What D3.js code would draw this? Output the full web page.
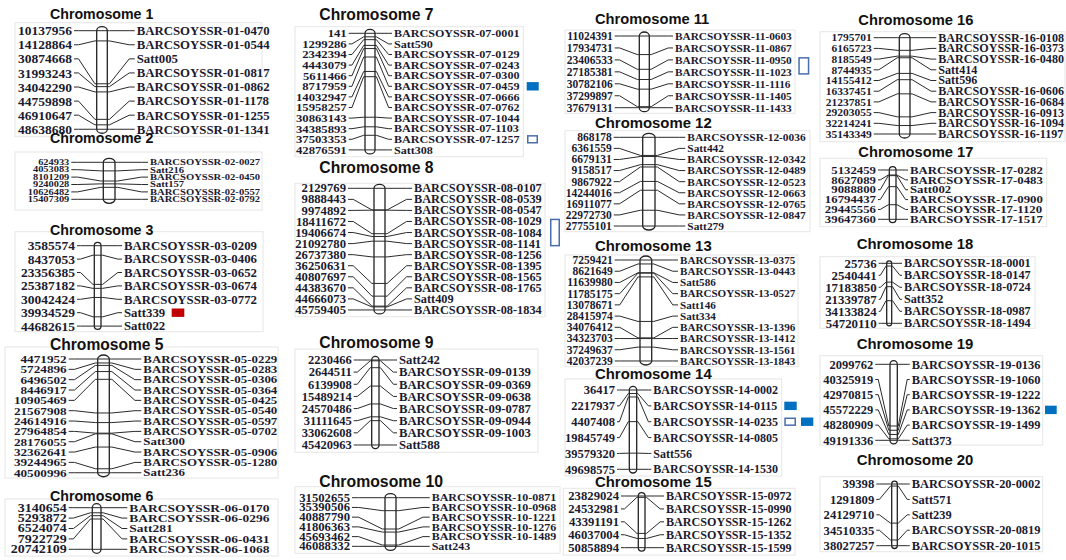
<!DOCTYPE html>
<html><head><meta charset="utf-8">
<script src="https://cdn.jsdelivr.net/npm/d3@7"></script>
<style>
html,body{margin:0;padding:0;background:#fff;}
svg{display:block;}
</style></head>
<body>
<svg id="chart" width="1066" height="560"></svg>
<script>
// ---------------- DATA ----------------
const chromosomes = [1,2,3,5,6,7,8,9,10,11,12,13,14,15,16,17,18,19,20];

const chr1Pos = [10137956,14128864,30874668,31993243,34042290,44759898,46910647,48638680];
const chr1Markers = ["BARCSOYSSR-01-0470","BARCSOYSSR-01-0544","Satt005","BARCSOYSSR-01-0817","BARCSOYSSR-01-0862","BARCSOYSSR-01-1178","BARCSOYSSR-01-1255","BARCSOYSSR-01-1341"];

const chr2Pos = [624933,4053083,8101209,9240028,10626482,15407309];
const chr2Markers = ["BARCSOYSSR-02-0027","Satt216","BARCSOYSSR-02-0450","Satt157","BARCSOYSSR-02-0557","BARCSOYSSR-02-0792"];

const chr3Pos = [3585574,8437053,23356385,25387182,30042424,39934529,44682615];
const chr3Markers = ["BARCSOYSSR-03-0209","BARCSOYSSR-03-0406","BARCSOYSSR-03-0652","BARCSOYSSR-03-0674","BARCSOYSSR-03-0772","Satt339","Satt022"];

const chr5Pos = [4471952,5724896,6496502,8446917,10905469,21567908,24614916,27964854,28176055,32362641,39244965,40500996];
const chr5Markers = ["BARCSOYSSR-05-0229","BARCSOYSSR-05-0283","BARCSOYSSR-05-0306","BARCSOYSSR-05-0364","BARCSOYSSR-05-0425","BARCSOYSSR-05-0540","BARCSOYSSR-05-0597","BARCSOYSSR-05-0702","Satt300","BARCSOYSSR-05-0906","BARCSOYSSR-05-1280","Satt236"];

const chr6Pos = [3140654,5293872,6524074,7922729,20742109];
const chr6Markers = ["BARCSOYSSR-06-0170","BARCSOYSSR-06-0296","Satt281","BARCSOYSSR-06-0431","BARCSOYSSR-06-1068"];

const chr7Pos = [141,1299286,2342394,4443079,5611466,8717959,14032947,15958257,30863143,34385893,37503353,42876591];
const chr7Markers = ["BARCSOYSSR-07-0001","Satt590","BARCSOYSSR-07-0129","BARCSOYSSR-07-0243","BARCSOYSSR-07-0300","BARCSOYSSR-07-0459","BARCSOYSSR-07-0666","BARCSOYSSR-07-0762","BARCSOYSSR-07-1044","BARCSOYSSR-07-1103","BARCSOYSSR-07-1257","Satt308"];

const chr8Pos = [2129769,9888443,9974892,18411672,19406674,21092780,26737380,36250631,40807697,44383670,44666073,45759405];
const chr8Markers = ["BARCSOYSSR-08-0107","BARCSOYSSR-08-0539","BARCSOYSSR-08-0547","BARCSOYSSR-08-1029","BARCSOYSSR-08-1084","BARCSOYSSR-08-1141","BARCSOYSSR-08-1256","BARCSOYSSR-08-1395","BARCSOYSSR-08-1565","BARCSOYSSR-08-1765","Satt409","BARCSOYSSR-08-1834"];

const chr9Pos = [2230466,2644511,6139908,15489214,24570486,31111645,33062608,45420963];
const chr9Markers = ["Satt242","BARCSOYSSR-09-0139","BARCSOYSSR-09-0369","BARCSOYSSR-09-0638","BARCSOYSSR-09-0787","BARCSOYSSR-09-0944","BARCSOYSSR-09-1003","Satt588"];

const chr10Pos = [31502655,35390506,40887790,41806363,45693462,46088332];
const chr10Markers = ["BARCSOYSSR-10-0871","BARCSOYSSR-10-0968","BARCSOYSSR-10-1221","BARCSOYSSR-10-1276","BARCSOYSSR-10-1489","Satt243"];

const chr11Pos = [11024391,17934731,23406533,27185381,30782106,37299897,37679131];
const chr11Markers = ["BARCSOYSSR-11-0603","BARCSOYSSR-11-0867","BARCSOYSSR-11-0950","BARCSOYSSR-11-1023","BARCSOYSSR-11-1116","BARCSOYSSR-11-1405","BARCSOYSSR-11-1433"];

const chr12Pos = [868178,6361559,6679131,9158517,9867922,14244016,16911077,22972730,27755101];
const chr12Markers = ["BARCSOYSSR-12-0036","Satt442","BARCSOYSSR-12-0342","BARCSOYSSR-12-0489","BARCSOYSSR-12-0523","BARCSOYSSR-12-0663","BARCSOYSSR-12-0765","BARCSOYSSR-12-0847","Satt279"];

const chr13Pos = [7259421,8621649,11639980,11785175,13078671,28415974,34076412,34323703,37249637,42037239];
const chr13Markers = ["BARCSOYSSR-13-0375","BARCSOYSSR-13-0443","Satt586","BARCSOYSSR-13-0527","Satt146","Satt334","BARCSOYSSR-13-1396","BARCSOYSSR-13-1412","BARCSOYSSR-13-1561","BARCSOYSSR-13-1843"];

const chr14Pos = [36417,2217937,4407408,19845749,39579320,49698575];
const chr14Markers = ["BARCSOYSSR-14-0002","BARCSOYSSR-14-0115","BARCSOYSSR-14-0235","BARCSOYSSR-14-0805","Satt556","BARCSOYSSR-14-1530"];

const chr15Pos = [23829024,24532981,43391191,46037004,50858894];
const chr15Markers = ["BARCSOYSSR-15-0972","BARCSOYSSR-15-0990","BARCSOYSSR-15-1262","BARCSOYSSR-15-1352","BARCSOYSSR-15-1599"];

const chr16Pos = [1795701,6165723,8185549,8744935,14155412,16337451,21237851,29203055,32214241,35143349];
const chr16Markers = ["BARCSOYSSR-16-0108","BARCSOYSSR-16-0373","BARCSOYSSR-16-0480","Satt414","Satt596","BARCSOYSSR-16-0606","BARCSOYSSR-16-0684","BARCSOYSSR-16-0913","BARCSOYSSR-16-1094","BARCSOYSSR-16-1197"];

const chr17Pos = [5132459,8627089,9088800,16794437,29445556,39647360];
const chr17Markers = ["BARCSOYSSR-17-0282","BARCSOYSSR-17-0483","Satt002","BARCSOYSSR-17-0900","BARCSOYSSR-17-1120","BARCSOYSSR-17-1517"];

const chr18Pos = [25736,2540441,17183850,21339787,34133824,54720110];
const chr18Markers = ["BARCSOYSSR-18-0001","BARCSOYSSR-18-0147","BARCSOYSSR-18-0724","Satt352","BARCSOYSSR-18-0987","BARCSOYSSR-18-1494"];

const chr19Pos = [2099762,40325919,42970815,45572229,48280909,49191336];
const chr19Markers = ["BARCSOYSSR-19-0136","BARCSOYSSR-19-1060","BARCSOYSSR-19-1222","BARCSOYSSR-19-1362","BARCSOYSSR-19-1499","Satt373"];

const chr20Pos = [39398,1291809,24129710,34510335,38027257];
const chr20Markers = ["BARCSOYSSR-20-0002","Satt571","Satt239","BARCSOYSSR-20-0819","BARCSOYSSR-20-1015"];

// highlighted markers (kind: filled / open; span = from marker .. to marker)
const highlights = [
  {chr:3,  from:"Satt339",            to:"Satt339",            kind:"filled", color:"#c00000"},
  {chr:7,  from:"BARCSOYSSR-07-0459", to:"BARCSOYSSR-07-0459", kind:"filled", color:"#0070c0"},
  {chr:7,  from:"BARCSOYSSR-07-1257", to:"BARCSOYSSR-07-1257", kind:"open",   color:"#4a6ea9"},
  {chr:8,  from:"BARCSOYSSR-08-1029", to:"BARCSOYSSR-08-1141", kind:"open",   color:"#4a6ea9"},
  {chr:11, from:"BARCSOYSSR-11-0950", to:"BARCSOYSSR-11-1023", kind:"open",   color:"#4a6ea9"},
  {chr:14, from:"BARCSOYSSR-14-0115", to:"BARCSOYSSR-14-0115", kind:"filled", color:"#0070c0"},
  {chr:14, from:"BARCSOYSSR-14-0235", to:"BARCSOYSSR-14-0235", kind:"open",   color:"#4a6ea9"},
  {chr:14, from:"BARCSOYSSR-14-0235", to:"BARCSOYSSR-14-0235", kind:"filled", color:"#0070c0"},
  {chr:19, from:"BARCSOYSSR-19-1362", to:"BARCSOYSSR-19-1362", kind:"filled", color:"#0070c0"}
];

const dataByChr = {
  1:[chr1Pos,chr1Markers],2:[chr2Pos,chr2Markers],3:[chr3Pos,chr3Markers],5:[chr5Pos,chr5Markers],
  6:[chr6Pos,chr6Markers],7:[chr7Pos,chr7Markers],8:[chr8Pos,chr8Markers],9:[chr9Pos,chr9Markers],
  10:[chr10Pos,chr10Markers],11:[chr11Pos,chr11Markers],12:[chr12Pos,chr12Markers],13:[chr13Pos,chr13Markers],
  14:[chr14Pos,chr14Markers],15:[chr15Pos,chr15Markers],16:[chr16Pos,chr16Markers],17:[chr17Pos,chr17Markers],
  18:[chr18Pos,chr18Markers],19:[chr19Pos,chr19Markers],20:[chr20Pos,chr20Markers]
};

// ---------------- LAYOUT ----------------
// t:[x, baseline, fontsize], box:[x,y,w,h], y0/step rows, lx: left label right edge,
// cx/cw chromosome, rx: right label start, lfs/rfs font sizes, sy: vertical text squeeze
const layout = {
  1: {t:[50,19,14.2],  box:[15,22.7,247,114],   y0:30.7, step:14.08, lx:72,    cx:96.7,  cw:10.6, rx:136.7, lfs:13.5, rfs:12.8, sy:1},
  2: {t:[50,143,14.2], box:[15,152,247,58],     y0:162.3,step:7.4,   lx:69.3,  cx:103.3, cw:11.7, rx:150,   lfs:10.4, rfs:10.6, sy:0.78},
  3: {t:[50,235,14.2], box:[15,231.7,248,100],  y0:245.7,step:13.4,  lx:75,    cx:94.3,  cw:6.7,  rx:124,   lfs:13.5, rfs:12.8, sy:1},
  5: {t:[50,349.5,15.6],box:[5,347,273,131],    y0:359,  step:10.34, lx:66.7,  cx:97.7,  cw:11.6, rx:143.3, lfs:13.2, rfs:12.9, sy:0.85},
  6: {t:[50,500.5,14.2],box:[5,499,273,57],     y0:507.7,step:10.4,  lx:66.7,  cx:92.3,  cw:8.7,  rx:129.3, lfs:14,   rfs:13.5, sy:0.83},
  7: {t:[319.3,20,15.7],box:[295,26.7,228.3,130],y0:33.3,step:10.6,  lx:346.7, cx:365,   cw:10,   rx:394,   lfs:12.7, rfs:12.1, sy:0.88},
  8: {t:[319.3,172.5,15.7],box:[295,183.3,250,133.4],y0:188.3,step:11.06,lx:346,cx:374,  cw:11,   rx:414,   lfs:12.7, rfs:12.3, sy:0.95},
  9: {t:[319.3,348,15.7],box:[295,349,243,103.3],y0:360,  step:12.14, lx:351.7, cx:371.7, cw:7.3,  rx:399,   lfs:12.5, rfs:12.7, sy:1},
  10:{t:[319.3,486.5,15.8],box:[295,486.7,265,66.6],y0:497.7,step:9.73,lx:350,  cx:385,   cw:11,   rx:431.7, lfs:12.7, rfs:12,   sy:0.9},
  11:{t:[595,24,14.7], box:[565,30,230,83.3],   y0:36,   step:11.95, lx:612.7, cx:639.3, cw:10,   rx:675,   lfs:11.5, rfs:11.3, sy:1},
  12:{t:[595,128,14.9],box:[565,130.7,245,101], y0:137.3,step:11.09, lx:611.7, cx:642.7, cw:12.3, rx:687.3, lfs:11.5, rfs:11.4, sy:1},
  13:{t:[595,250.5,14.9],box:[565,255,233,111.7],y0:260, step:11.22, lx:612.7, cx:640,   cw:11.7, rx:680,   lfs:11.5, rfs:11.1, sy:1},
  14:{t:[595,379,14.9],box:[565,379,216.7,97],  y0:390,  step:15.86, lx:615,   cx:629.3, cw:7.4,  rx:653.3, lfs:12.5, rfs:12,   sy:1},
  15:{t:[595,487,14.9],box:[563.3,488.3,231.7,66.7],y0:496,step:12.92,lx:619,  cx:638.3, cw:6.7,  rx:666,   lfs:12.7, rfs:12.1, sy:1},
  16:{t:[858.3,25,14.7],box:[820,31.7,245,110], y0:37.7, step:10.7,  lx:871.7, cx:899.3, cw:10.7, rx:938.3, lfs:11.5, rfs:12.1, sy:0.95},
  17:{t:[858.3,156.5,14.7],box:[820,158.3,226.7,68.4],y0:170,step:9.86,lx:876, cx:889.3, cw:6.7,  rx:910,   lfs:12.8, rfs:12.8, sy:0.86},
  18:{t:[856.7,249,14.9],box:[820,256.7,215,71.6],y0:263.3,step:12,   lx:876.7, cx:886.7, cw:5,    rx:904,   lfs:12.9, rfs:12.2, sy:1},
  19:{t:[856.7,349,14.9],box:[820,355.7,222.7,89.3],y0:364.3,step:15.2,lx:873.3,cx:890,  cw:7.3,  rx:911.7, lfs:12.5, rfs:12.4, sy:1},
  20:{t:[856.7,465,14.9],box:[820,476.7,222.7,75],y0:484, step:15.42, lx:874.3, cx:891.7, cw:5.6,  rx:911.7, lfs:12.7, rfs:12.4, sy:1}
};
// x positions / width of highlight boxes (in order of highlights array)
const hlBoxX = [[171.7,12.6],[526.7,12],[527,11],[550,10],[798.3,11],[784.3,12.4],[784.3,11.7],[801,12.3],[1045,11.7]];

// ---------------- DRAW ----------------
const svg = d3.select("#chart");
const serif = "'Liberation Serif','Times New Roman',serif";
const sans = "'Liberation Sans',Arial,sans-serif";
const textCol = "#1b1b30";

chromosomes.forEach(c => {
  const L = layout[c];
  const [pos, markers] = dataByChr[c];
  const n = pos.length;
  const g = svg.append("g");

  // panel frame
  g.append("rect").attr("x",L.box[0]).attr("y",L.box[1]).attr("width",L.box[2]).attr("height",L.box[3])
    .attr("fill","none").attr("stroke","#e6e6e6").attr("stroke-width",1);

  // title
  g.append("text").attr("x",L.t[0]).attr("y",L.t[1]).text("Chromosome " + c)
    .attr("font-family",sans).attr("font-weight","bold").attr("font-size",L.t[2]).attr("fill","#111");

  const rowY = d3.scaleLinear().domain([0,n-1]).range([L.y0, L.y0 + (n-1)*L.step]);
  const posY = d3.scaleLinear().domain(d3.extent(pos)).range([L.y0, L.y0 + (n-1)*L.step]);

  // chromosome body
  const cap = Math.max(2.5, Math.min(4, L.cw/2));
  g.append("rect").attr("x",L.cx).attr("y",posY(d3.min(pos))-cap)
    .attr("width",L.cw).attr("height",posY(d3.max(pos))-posY(d3.min(pos))+2*cap)
    .attr("rx",L.cw/2).attr("ry",cap)
    .attr("fill","#fff").attr("stroke","#222").attr("stroke-width",1.3);

  // connectors
  const lgap = L.cx - (L.lx + 2);
  const rgap = (L.rx - 2) - (L.cx + L.cw);
  g.selectAll("path.conn").data(pos).join("path").attr("class","conn")
    .attr("d",(d,i)=>{
      const ry = rowY(i), my = posY(d);
      const x0 = L.lx + 2, x1 = x0 + lgap*0.2, x2 = L.cx - lgap*0.08;
      const x5 = L.rx - 2, x4 = x5 - rgap*0.2, x3 = L.cx + L.cw + rgap*0.08;
      return `M${x0},${ry}L${x1},${ry}L${x2},${my}L${x3},${my}L${x4},${ry}L${x5},${ry}`;
    })
    .attr("fill","none").attr("stroke","#2a2a2a").attr("stroke-width",1);

  // left labels (positions)
  g.selectAll("text.pos").data(pos).join("text").attr("class","pos")
    .attr("transform",(d,i)=>`translate(${L.lx},${rowY(i)}) scale(1,${L.sy})`)
    .attr("dy","0.34em")
    .attr("text-anchor","end").attr("font-family",serif).attr("font-weight","bold")
    .attr("font-size",L.lfs).attr("fill",textCol).text(d=>d);

  // right labels (markers)
  g.selectAll("text.mk").data(markers).join("text").attr("class","mk")
    .attr("transform",(d,i)=>`translate(${L.rx},${rowY(i)}) scale(1,${L.sy})`)
    .attr("dy","0.34em")
    .attr("font-family",serif).attr("font-weight","bold")
    .attr("font-size",L.rfs).attr("fill",textCol).text(d=>d);

  // highlight boxes
  highlights.forEach((h,k) => {
    if (h.chr !== c) return;
    const i0 = markers.indexOf(h.from), i1 = markers.indexOf(h.to);
    let y, hh;
    if (i0 === i1) { y = rowY(i0) - 4.2; hh = 8.4; }
    else { y = rowY(i0) - 2.8; hh = rowY(i1) - rowY(i0) + 5.6; }
    const [bx,bw] = hlBoxX[k];
    if (h.kind === "filled") {
      g.append("rect").attr("x",bx).attr("y",y).attr("width",bw).attr("height",hh).attr("fill",h.color);
    } else {
      g.append("rect").attr("x",bx+0.75).attr("y",y+0.75).attr("width",bw-1.5).attr("height",hh-1.5)
        .attr("fill","#fff").attr("stroke",h.color).attr("stroke-width",1.5);
    }
  });
});
</script>
</body></html>
